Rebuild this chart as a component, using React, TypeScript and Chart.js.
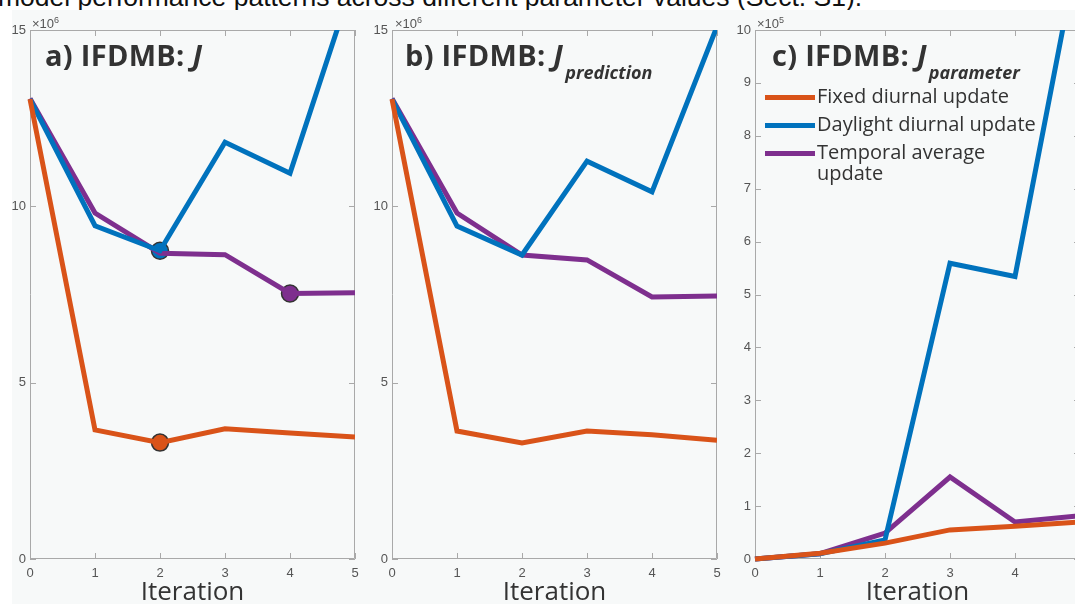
import React, { useEffect, useRef } from "react";
import { Chart, registerables } from "chart.js";
Chart.register(...registerables);

// ---- data ----
const iterations = [0, 1, 2, 3, 4, 5];
const xTickLabels = ["0", "1", "2", "3", "4", "5"];

// panel a) J (x10^6)
const fixedA = [13.04, 3.66, 3.3, 3.69, 3.57, 3.46];
const daylightA = [13.04, 9.45, 8.74, 11.82, 10.94, 16.55];
const temporalA = [13.06, 9.81, 8.67, 8.63, 7.53, 7.55];
// panel b) J prediction (x10^6)
const fixedB = [13.04, 3.63, 3.29, 3.63, 3.52, 3.37];
const daylightB = [13.04, 9.44, 8.62, 11.28, 10.41, 15.1];
const temporalB = [13.06, 9.81, 8.62, 8.48, 7.43, 7.46];
// panel c) J parameter (x10^5)
const fixedC = [0, 0.11, 0.3, 0.55, 0.62, 0.7];
const daylightC = [0, 0.1, 0.36, 5.59, 5.34, 11.7];
const temporalC = [0, 0.1, 0.49, 1.55, 0.7, 0.82];

const seriesNames = ["Fixed diurnal update", "Daylight diurnal update", "Temporal average update"];
const seriesColors = ["#D95319", "#0072BD", "#7E2F8E"];

// highlighted points in panel a: [series index, iteration index]
const markersA: [number, number][] = [
  [0, 2],
  [1, 2],
  [2, 4],
];

const BG = "#f7f9f9";
const AXIS = "#a9a9a9";

const boxPlugin = {
  id: "matlabBox",
  beforeDatasetsDraw(chart: any) {
    const { ctx, chartArea } = chart;
    const { left, right, top, bottom } = chartArea;
    const x = chart.scales.x;
    const y = chart.scales.y;
    ctx.save();
    ctx.strokeStyle = AXIS;
    ctx.lineWidth = 1;
    ctx.beginPath();
    ctx.rect(left + 0.5, top + 0.5, right - left - 1, bottom - top - 1);
    const tl = 6;
    x.ticks.forEach((t: any) => {
      const px = Math.round(x.getPixelForValue(t.value)) + 0.5;
      ctx.moveTo(px, bottom);
      ctx.lineTo(px, bottom - tl);
      ctx.moveTo(px, top);
      ctx.lineTo(px, top + tl);
    });
    y.ticks.forEach((t: any) => {
      const py = Math.round(y.getPixelForValue(t.value)) + 0.5;
      ctx.moveTo(left, py);
      ctx.lineTo(left + tl, py);
      ctx.moveTo(right, py);
      ctx.lineTo(right - tl, py);
    });
    ctx.stroke();
    ctx.restore();
  },
};

type PanelProps = {
  left: number;
  series: number[][];
  markers: [number, number][];
  yMax: number;
  yStep: number;
};

const PLOT_W = 325;
const AXIS_W = 30;
const TOP = 30;
const BOTTOM_H = 45;
const CANVAS_H = 604;
const TICK_FONT = { family: "'Liberation Sans', Arial, sans-serif", size: 13 };

function Panel({ left, series, markers, yMax, yStep }: PanelProps) {
  const ref = useRef<HTMLCanvasElement>(null);
  useEffect(() => {
    if (!ref.current) return;
    const lineSets = series.map((d, si) => ({
      label: seriesNames[si],
      data: iterations.map((x, i) => ({ x, y: d[i] })),
      borderColor: seriesColors[si],
      backgroundColor: seriesColors[si],
      borderWidth: 5,
      pointRadius: 0,
      tension: 0,
      borderJoinStyle: "miter" as const,
      clip: { left: 6, top: 0, right: 0, bottom: 6 },
    }));
    const markerSets = markers.map(([si, idx]) => ({
      label: "marker",
      data: [{ x: iterations[idx], y: series[si][idx] }],
      showLine: false,
      pointRadius: 8.5,
      pointBackgroundColor: seriesColors[si],
      pointBorderColor: "#333333",
      pointBorderWidth: 1.5,
      clip: 12,
    }));
    const chart = new Chart(ref.current, {
      type: "line",
      data: { datasets: [...lineSets, ...markerSets] as any },
      options: {
        animation: false,
        responsive: false,
        events: [],
        layout: { padding: { top: TOP, right: 15, left: 0, bottom: 0 } },
        plugins: { legend: { display: false }, tooltip: { enabled: false } },
        scales: {
          x: {
            type: "linear",
            min: 0,
            max: 5,
            grid: { display: false, drawTicks: false },
            border: { display: false },
            ticks: {
              stepSize: 1,
              padding: 7,
              color: "#555555",
              font: TICK_FONT,
              callback: (v: any) => xTickLabels[iterations.indexOf(Number(v))] ?? "",
            },
            afterFit: (s: any) => {
              s.height = BOTTOM_H;
            },
          },
          y: {
            type: "linear",
            min: 0,
            max: yMax,
            grid: { display: false, drawTicks: false },
            border: { display: false },
            ticks: {
              stepSize: yStep,
              padding: 4,
              color: "#555555",
              font: TICK_FONT,
            },
            afterFit: (s: any) => {
              s.width = AXIS_W;
            },
          },
        },
      },
      plugins: [boxPlugin],
    });
    return () => chart.destroy();
  }, []);
  const w = AXIS_W + PLOT_W + 15;
  return (
    <canvas
      ref={ref}
      width={w}
      height={CANVAS_H}
      style={{ position: "absolute", left: left - AXIS_W, top: 0, width: w, height: CANVAS_H }}
    />
  );
}

const titleStyle: React.CSSProperties = {
  position: "absolute",
  top: 40,
  fontFamily: "'Open Sans'",
  fontWeight: 700,
  fontSize: 29,
  lineHeight: "29px",
  letterSpacing: 0.3,
  color: "#333333",
  whiteSpace: "nowrap",
};
const subStyle: React.CSSProperties = {
  fontSize: 18,
  fontStyle: "italic",
  letterSpacing: 0,
  verticalAlign: -13,
  marginLeft: 2,
};
const expStyle: React.CSSProperties = {
  position: "absolute",
  top: 13,
  fontFamily: "'Liberation Sans'",
  fontSize: 13,
  lineHeight: "15px",
  color: "#555555",
};
const iterStyle: React.CSSProperties = {
  position: "absolute",
  top: 575,
  width: PLOT_W,
  textAlign: "center",
  fontFamily: "'Open Sans'",
  fontSize: 26,
  lineHeight: "30px",
  color: "#333333",
};

function Exp({ left, p }: { left: number; p: string }) {
  return (
    <div style={{ ...expStyle, left }}>
      ×10<sup style={{ fontSize: 9, verticalAlign: 5 }}>{p}</sup>
    </div>
  );
}

export default function App() {
  return (
    <div
      style={{
        position: "absolute",
        left: 0,
        top: 0,
        width: 1075,
        height: 604,
        overflow: "hidden",
        background: "#ffffff",
      }}
    >
      <div
        style={{
          position: "absolute",
          left: -2,
          top: -18,
          fontFamily: "'Liberation Sans'",
          fontSize: 26.5,
          lineHeight: "30px",
          color: "#111",
          whiteSpace: "nowrap",
        }}
      >
        model performance patterns across different parameter values (Sect. S1).
      </div>
      <div style={{ position: "absolute", left: 12, top: 10, right: 0, bottom: 0, background: BG }} />

      <Panel left={30} series={[fixedA, daylightA, temporalA]} markers={markersA} yMax={15} yStep={5} />
      <Panel left={392} series={[fixedB, daylightB, temporalB]} markers={[]} yMax={15} yStep={5} />
      <Panel left={755} series={[fixedC, daylightC, temporalC]} markers={[]} yMax={10} yStep={1} />

      <Exp left={32} p="6" />
      <Exp left={395} p="6" />
      <Exp left={757} p="5" />

      <div style={{ ...titleStyle, left: 45 }}>
        a) IFDMB: <i>J</i>
      </div>
      <div style={{ ...titleStyle, left: 405 }}>
        b) IFDMB: <i>J</i>
        <span style={subStyle}>prediction</span>
      </div>
      <div style={{ ...titleStyle, left: 772 }}>
        c) IFDMB: <i>J</i>
        <span style={subStyle}>parameter</span>
      </div>

      <div
        style={{
          position: "absolute",
          left: 765,
          top: 85,
          fontFamily: "'Open Sans'",
          fontSize: 20,
          color: "#333333",
        }}
      >
        {seriesNames.map((n, i) => (
          <div key={n} style={{ display: "flex", alignItems: "flex-start", height: 28 }}>
            <div
              style={{
                width: 50,
                height: 5,
                background: seriesColors[i],
                marginTop: 10,
                marginRight: 2,
                flex: "none",
              }}
            />
            <div style={{ lineHeight: "21px", width: i === 2 ? 180 : 260 }}>
              {i === 2 ? (
                <>
                  Temporal average
                  <br />
                  update
                </>
              ) : (
                n
              )}
            </div>
          </div>
        ))}
      </div>

      <div style={{ ...iterStyle, left: 30 }}>Iteration</div>
      <div style={{ ...iterStyle, left: 392 }}>Iteration</div>
      <div style={{ ...iterStyle, left: 755 }}>Iteration</div>
    </div>
  );
}
